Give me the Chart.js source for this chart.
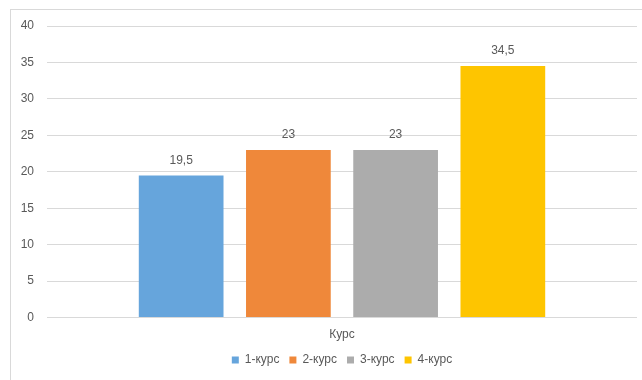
<!DOCTYPE html>
<html>
<head>
<meta charset="utf-8">
<script src="https://cdn.jsdelivr.net/npm/chart.js@4/dist/chart.umd.min.js"></script>
<style>
  body { margin: 0; background: #fff; overflow: hidden; }
  #wrap { position: relative; width: 642px; height: 380px; }
  #frame { position: absolute; left: 10px; top: 9px; width: 640px; height: 380px; border: 1px solid #d9d9d9; }
  canvas { position: absolute; left: 0; top: 0; }
</style>
</head>
<body>
<div id="wrap">
  <div id="frame"></div>
  <canvas id="chart" width="642" height="380"></canvas>
</div>
<script>
// Chart data
const categories = ['Курс'];
const seriesNames = ['1-курс', '2-курс', '3-курс', '4-курс'];
const seriesValues = [[19.5], [23], [23], [34.5]];
const seriesColors = ['#66a5dc', '#ef883a', '#acacac', '#fec500'];
const yTicks = [0, 5, 10, 15, 20, 25, 30, 35, 40];

const textColor = '#595959';
const fontFamily = '"Liberation Sans", Arial, sans-serif';

// draws the value over each bar, with a comma as decimal mark
const valueLabels = {
    id: 'valueLabels',
    afterDatasetsDraw(chart) {
        const ctx = chart.ctx;
        ctx.save();
        ctx.fillStyle = textColor;
        ctx.font = '12px ' + fontFamily;
        ctx.textAlign = 'center';
        ctx.textBaseline = 'bottom';
        chart.data.datasets.forEach((ds, i) => {
            const meta = chart.getDatasetMeta(i);
            meta.data.forEach((bar, j) => {
                const txt = String(ds.data[j]).replace('.', ',');
                ctx.fillText(txt, bar.x, bar.y - 9);
            });
        });
        ctx.restore();
    }
};

const ctx = document.getElementById('chart').getContext('2d');
new Chart(ctx, {
    type: 'bar',
    data: {
        labels: categories,
        datasets: seriesNames.map((name, i) => ({
            label: name,
            data: seriesValues[i],
            backgroundColor: seriesColors[i],
            barPercentage: 0.79,
            categoryPercentage: 0.727
        }))
    },
    options: {
        responsive: false,
        animation: false,
        devicePixelRatio: 1,
        layout: {
            padding: { left: 10, right: 5, top: 26, bottom: 4 }
        },
        plugins: {
            legend: {
                position: 'bottom',
                fullSize: false,   // centre legend under the plot, not the canvas
                labels: {
                    boxWidth: 7,
                    boxHeight: 7,
                    padding: 10,
                    color: textColor,
                    font: { family: fontFamily, size: 12 }
                }
            },
            tooltip: { enabled: false }
        },
        scales: {
            x: {
                grid: { display: false },
                border: { display: false },
                ticks: {
                    color: textColor,
                    padding: 2,
                    font: { family: fontFamily, size: 12 }
                }
            },
            y: {
                min: 0,
                max: 40,
                afterFit(scale) { scale.width = 37; },
                afterBuildTicks(scale) { scale.ticks = yTicks.map(v => ({ value: v })); },
                grid: { color: '#d9d9d9', drawTicks: false },
                border: { display: false },
                ticks: {
                    color: textColor,
                    padding: 13,
                    font: { family: fontFamily, size: 12 }
                }
            }
        }
    },
    plugins: [valueLabels]
});
</script>
</body>
</html>
